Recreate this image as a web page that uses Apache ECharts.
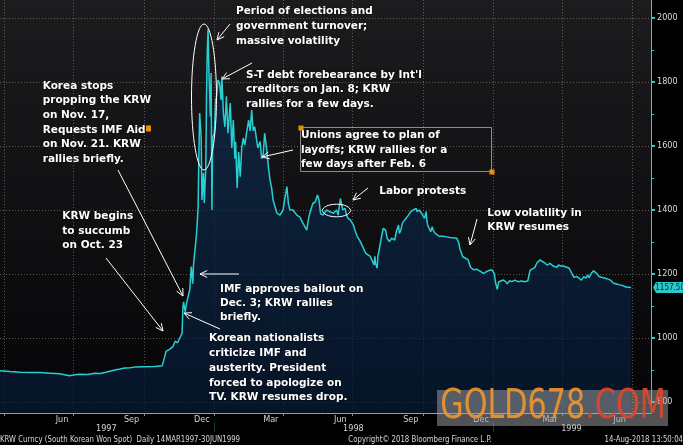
<!DOCTYPE html>
<html><head><meta charset="utf-8">
<script src="https://cdn.jsdelivr.net/npm/echarts@6/dist/echarts.min.js"></script>
<style>html,body{margin:0;padding:0;background:#000;overflow:hidden}#c{width:683px;height:445px}</style>
</head><body><div id="c"></div>
<script>
const dates = ['1997-03-14','1997-03-27','1997-04-09','1997-04-22','1997-05-05','1997-05-18','1997-05-31','1997-06-13','1997-06-26','1997-07-03','1997-07-09','1997-07-20','1997-07-29','1997-08-05','1997-08-11','1997-08-24','1997-08-31','1997-09-06','1997-09-13','1997-09-19','1997-10-02','1997-10-15','1997-10-25','1997-10-27','1997-10-30','1997-11-04','1997-11-08','1997-11-11','1997-11-14','1997-11-17','1997-11-20','1997-11-21','1997-11-22','1997-11-24','1997-11-26','1997-11-30','1997-12-02','1997-12-04','1997-12-05','1997-12-09','1997-12-11','1997-12-12','1997-12-13','1997-12-15','1997-12-16','1997-12-18','1997-12-19','1997-12-21','1997-12-22','1997-12-23','1997-12-24','1997-12-25','1997-12-26','1997-12-27','1997-12-28','1997-12-29','1997-12-30','1998-01-01','1998-01-03','1998-01-04','1998-01-06','1998-01-08','1998-01-10','1998-01-11','1998-01-13','1998-01-15','1998-01-17','1998-01-19','1998-01-22','1998-01-24','1998-01-26','1998-01-28','1998-01-29','1998-01-31','1998-02-02','1998-02-04','1998-02-06','1998-02-08','1998-02-10','1998-02-12','1998-02-15','1998-02-17','1998-02-19','1998-02-21','1998-02-23','1998-02-27','1998-03-02','1998-03-04','1998-03-06','1998-03-08','1998-03-11','1998-03-13','1998-03-15','1998-03-17','1998-03-19','1998-03-24','1998-03-28','1998-04-01','1998-04-03','1998-04-06','1998-04-08','1998-04-10','1998-04-14','1998-04-19','1998-04-23','1998-04-27','1998-05-02','1998-05-04','1998-05-06','1998-05-10','1998-05-13','1998-05-16','1998-05-18','1998-05-20','1998-05-23','1998-05-28','1998-06-01','1998-06-06','1998-06-10','1998-06-12','1998-06-15','1998-06-18','1998-06-21','1998-06-23','1998-06-25','1998-06-28','1998-07-02','1998-07-04','1998-07-07','1998-07-10','1998-07-13','1998-07-15','1998-07-18','1998-07-21','1998-07-24','1998-07-27','1998-07-29','1998-07-30','1998-07-31','1998-08-02','1998-08-03','1998-08-05','1998-08-07','1998-08-10','1998-08-13','1998-08-15','1998-08-18','1998-08-21','1998-08-23','1998-08-25','1998-08-27','1998-08-30','1998-08-31','1998-09-02','1998-09-04','1998-09-07','1998-09-12','1998-09-15','1998-09-18','1998-09-22','1998-09-23','1998-09-26','1998-09-29','1998-10-01','1998-10-03','1998-10-05','1998-10-06','1998-10-07','1998-10-09','1998-10-11','1998-10-13','1998-10-14','1998-10-17','1998-10-19','1998-10-22','1998-10-27','1998-11-01','1998-11-05','1998-11-09','1998-11-14','1998-11-17','1998-11-18','1998-11-22','1998-11-25','1998-11-29','1998-12-02','1998-12-06','1998-12-10','1998-12-14','1998-12-19','1998-12-21','1998-12-25','1998-12-30','1999-01-02','1999-01-04','1999-01-06','1999-01-08','1999-01-10','1999-01-14','1999-01-17','1999-01-19','1999-01-22','1999-01-25','1999-01-29','1999-02-02','1999-02-07','1999-02-11','1999-02-15','1999-02-18','1999-02-20','1999-02-24','1999-02-27','1999-03-03','1999-03-06','1999-03-09','1999-03-12','1999-03-16','1999-03-20','1999-03-25','1999-03-27','1999-03-30','1999-04-02','1999-04-07','1999-04-10','1999-04-13','1999-04-16','1999-04-20','1999-04-23','1999-04-26','1999-04-29','1999-05-02','1999-05-04','1999-05-06','1999-05-09','1999-05-12','1999-05-16','1999-05-19','1999-05-22','1999-05-27','1999-05-31','1999-06-03','1999-06-07','1999-06-11','1999-06-15','1999-06-20','1999-06-23','1999-06-30'];
const values = [893,898,895,893,892,892,890,888,882,885,887,886,890,889,892,900,903,906,907,909,910,911,913,930,958,965,973,990,985,1000,1015,1090,1113,1082,1110,1150,1223,1170,1230,1327,1410,1578,1703,1625,1431,1516,1422,1531,1765,1900,1965,1840,1840,1692,1828,1400,1625,1640,1744,1755,1806,1797,1744,1817,1703,1660,1755,1640,1734,1594,1681,1560,1613,1469,1581,1504,1594,1625,1603,1636,1681,1647,1712,1647,1660,1594,1614,1560,1572,1640,1581,1531,1494,1470,1431,1390,1384,1400,1431,1473,1420,1400,1400,1384,1378,1359,1337,1369,1390,1421,1425,1447,1431,1389,1384,1400,1395,1390,1400,1384,1436,1400,1405,1384,1374,1369,1353,1337,1317,1306,1291,1285,1265,1260,1255,1239,1228,1255,1233,1218,1255,1280,1307,1343,1337,1312,1301,1312,1317,1306,1332,1353,1327,1337,1359,1369,1384,1395,1400,1405,1395,1400,1390,1390,1374,1395,1369,1353,1343,1332,1348,1337,1327,1332,1318,1318,1316,1314,1313,1312,1296,1280,1254,1250,1244,1221,1213,1215,1210,1202,1207,1210,1213,1202,1171,1152,1176,1171,1181,1176,1169,1179,1176,1181,1176,1178,1176,1179,1212,1217,1220,1235,1244,1239,1235,1228,1233,1225,1221,1228,1225,1225,1221,1218,1204,1190,1192,1187,1181,1192,1187,1197,1189,1202,1210,1202,1192,1190,1187,1184,1181,1171,1169,1166,1163,1159,1157.5];
const quarterStarts = ['1997-04-01','1997-07-01','1997-10-01','1998-01-01','1998-04-01','1998-07-01','1998-10-01','1999-01-01','1999-04-01','1999-07-01'];
const monthLabelDates = ['1997-06-16','1997-09-15','1997-12-16','1998-03-16','1998-06-15','1998-09-15','1998-12-16','1999-03-16','1999-06-15'];
const monthLabels = ['Jun','Sep','Dec','Mar','Jun','Sep','Dec','Mar','Jun'];
const yearLabelDates = ['1997-08-13','1998-07-02','1999-04-13'];
const yearLabels = ['1997','1998','1999'];
const yearStarts = ['1998-01-01','1999-01-01'];
const xMin = '1997-03-27', xMax = '1999-07-26';

const P = d => echarts.number.parseDate(d).getTime();
const monthMap = {}; monthLabelDates.forEach((d,i)=>monthMap[P(d)] = monthLabels[i]);
const yearMap = {}; yearLabelDates.forEach((d,i)=>yearMap[P(d)] = yearLabels[i]);

const chart = echarts.init(document.getElementById('c'), null, {renderer:'canvas'});
const CY = '#27cfd0';
const GRID = 'rgba(150,150,150,0.55)';
const NARROW = '"Liberation Sans Narrow","DejaVu Sans Condensed",sans-serif';
const ANN = 'bold 10.5px "DejaVu Sans"';

function text(x, top, lines, lh) {
  return {type:'text', z:100, x:x, y:top, style:{text:lines.join('\n'), fill:'#fff', font:ANN, lineHeight:lh, textShadowColor:'rgba(0,0,0,0.9)', textShadowBlur:2, textVerticalAlign:'top'}};
}
function arrow(x1,y1,x2,y2){
  const a = Math.atan2(y2-y1, x2-x1), L = 8, s = 0.45;
  const h1 = [x2 - L*Math.cos(a-s), y2 - L*Math.sin(a-s)];
  const h2 = [x2 - L*Math.cos(a+s), y2 - L*Math.sin(a+s)];
  return [
    {type:'line', z:100, shape:{x1:x1,y1:y1,x2:x2,y2:y2}, style:{stroke:'#fff', lineWidth:1}},
    {type:'polyline', z:100, shape:{points:[h1,[x2,y2],h2]}, style:{stroke:'#fff', lineWidth:1, fill:null}}
  ];
}
function foot(x, txt, align){
  return {type:'text', z:100, x:x, y:439.5, scaleX:0.86, style:{text:txt, fill:'#d8d8d8', font:'9px '+NARROW, textAlign:align, textVerticalAlign:'middle'}};
}

const graphics = [
  {type:'rect', z:-10, shape:{x:0,y:0,width:651,height:413}, style:{fill:new echarts.graphic.LinearGradient(0,0,0,1,[{offset:0,color:'#1c1c1f'},{offset:1,color:'#050507'}])}},
  text(236, 4.2, ['Period of elections and','government turnover;','massive volatility'], 15),
  text(246, 67.7, ['S-T debt forebearance by Int\'l','creditors on Jan. 8; KRW','rallies for a few days.'], 14.7),
  text(301, 127.6, ['Unions agree to plan of','layoffs; KRW rallies for a','few days after Feb. 6'], 14.85),
  text(42.7, 78.6, ['Korea stops','propping the KRW','on Nov. 17,','Requests IMF Aid','on Nov. 21. KRW','rallies briefly.'], 14.7),
  text(62.3, 209.5, ['KRW begins','to succumb','on Oct. 23'], 14.5),
  text(220, 282.2, ['IMF approves bailout on','Dec. 3; KRW rallies','briefly.'], 14.2),
  text(209, 330.9, ['Korean nationalists','criticize IMF and','austerity. President','forced to apologize on','TV. KRW resumes drop.'], 14.85),
  text(379.3, 183.5, ['Labor protests'], 15),
  text(487.3, 206, ['Low volatility in','KRW resumes'], 14.4),
  ...arrow(118,170,183,296),
  ...arrow(106,258,163,331),
  ...arrow(239,274,200,274),
  ...arrow(220,329,184,313),
  ...arrow(230,24,217,40),
  ...arrow(252,63,222,79),
  ...arrow(293,150,262,157),
  ...arrow(368,188,353,200),
  ...arrow(477,219,470,245),
  {type:'ellipse', z:100, shape:{cx:204,cy:97,rx:12.5,ry:73}, style:{stroke:'#fff', lineWidth:1, fill:null}},
  {type:'ellipse', z:100, shape:{cx:336.5,cy:210.5,rx:14,ry:6.3}, style:{stroke:'#fff', lineWidth:1, fill:null}},
  {type:'rect', z:99, shape:{x:300.5,y:127.5,width:191,height:44}, style:{stroke:'#8c8c8c', lineWidth:1, fill:null}},
  {type:'rect', z:101, shape:{x:298.5,y:125.5,width:5,height:5}, style:{fill:'#e8900c'}},
  {type:'rect', z:101, shape:{x:489.5,y:169.5,width:5,height:5}, style:{fill:'#e8900c'}},
  {type:'rect', z:101, shape:{x:146,y:125.5,width:5,height:6}, style:{fill:'#e8900c'}},
  foot(0, 'KRW Curncy (South Korean Won Spot)  Daily 14MAR1997-30JUN1999', 'left'),
  foot(420, 'Copyright\u00a9 2018 Bloomberg Finance L.P.', 'center'),
  foot(683, '14-Aug-2018 13:50:04', 'right'),
  {type:'rect', z:200, shape:{x:437,y:390,width:231,height:36}, style:{fill:'rgba(165,165,170,0.5)'}},
  {type:'text', z:201, x:553, y:408, scaleX:0.84, style:{text:'{a|GOLD678}{b|.COM}', textAlign:'center', textVerticalAlign:'middle', rich:{a:{fill:'rgba(235,150,45,0.92)', fontSize:40, fontFamily:NARROW}, b:{fill:'rgba(220,70,45,0.92)', fontSize:40, fontFamily:NARROW}}}}
];

const option = {
  backgroundColor:'#000',
  animation:false,
  grid:[{left:0,right:32,top:0,bottom:32},{left:0,right:32,top:18,bottom:43}],
  xAxis:[
    {type:'value', gridIndex:0, min:P(xMin), max:P(xMax),
     axisLine:{show:true, lineStyle:{color:CY, width:1}},
     axisTick:{show:true, customValues:quarterStarts.map(P), length:3, lineStyle:{color:'#888'}},
     splitLine:{show:true, lineStyle:{color:GRID, type:[1,2]}},
     axisLabel:{show:true, customValues:monthLabelDates.map(P), margin:2, fontSize:9, fontFamily:NARROW, color:'#d4d4d4', formatter:v=>monthMap[v]||''}},
    {type:'value', gridIndex:0, min:P(xMin), max:P(xMax), position:'bottom', offset:9,
     axisLine:{show:false},
     axisTick:{show:true, customValues:yearStarts.map(P), length:10, inside:false, lineStyle:{color:'#17393d', width:1}},
     splitLine:{show:false},
     axisLabel:{show:true, customValues:yearLabelDates.map(P), margin:2, fontSize:9, fontFamily:NARROW, color:'#d4d4d4', formatter:v=>yearMap[v]||''}},
    {type:'value', gridIndex:1, min:P(xMin), max:P(xMax), show:false}
  ],
  yAxis:[
    {type:'value', gridIndex:0, min:765.625, max:2056.25, position:'right',
     axisLine:{show:true, lineStyle:{color:CY, width:1}}, axisTick:{show:false}, axisLabel:{show:false}, splitLine:{show:false}},
    {type:'value', gridIndex:1, min:800, max:2000, interval:200, position:'right',
     axisLine:{show:false},
     axisTick:{show:true, length:4, lineStyle:{color:CY, width:2}},
     minorTick:{show:true, splitNumber:2, length:3, lineStyle:{color:CY, width:1}},
     splitLine:{show:true, lineStyle:{color:GRID, type:[1,2]}},
     axisLabel:{show:true, margin:6, fontSize:9, fontFamily:NARROW, color:'#dcdcdc', formatter:v=>String(v)}}
  ],
  series:[{
    type:'line', xAxisIndex:0, yAxisIndex:0, z:5,
    data: dates.map((d,i)=>[P(d), values[i]]),
    showSymbol:false, symbol:'none',
    lineStyle:{color:CY, width:1.5},
    areaStyle:{color:new echarts.graphic.LinearGradient(0,0,0,1,[{offset:0,color:'#0e2d50'},{offset:1,color:'#061a35'}])},
    markPoint:{
      symbol:'path://M0 5L3 0H34V10H3Z', symbolKeepAspect:false, symbolSize:[32,11], symbolOffset:[38,0],
      itemStyle:{color:'#2cc8c9'},
      label:{show:true, position:'inside', color:'#04262a', fontSize:8, fontFamily:NARROW, formatter:p=>Number(p.value).toFixed(2), offset:[1,0]},
      data:[{coord:[P(dates[dates.length-1]), values[values.length-1]], value:values[values.length-1]}]
    }
  }],
  graphic: graphics
};
chart.setOption(option);
</script></body></html>
